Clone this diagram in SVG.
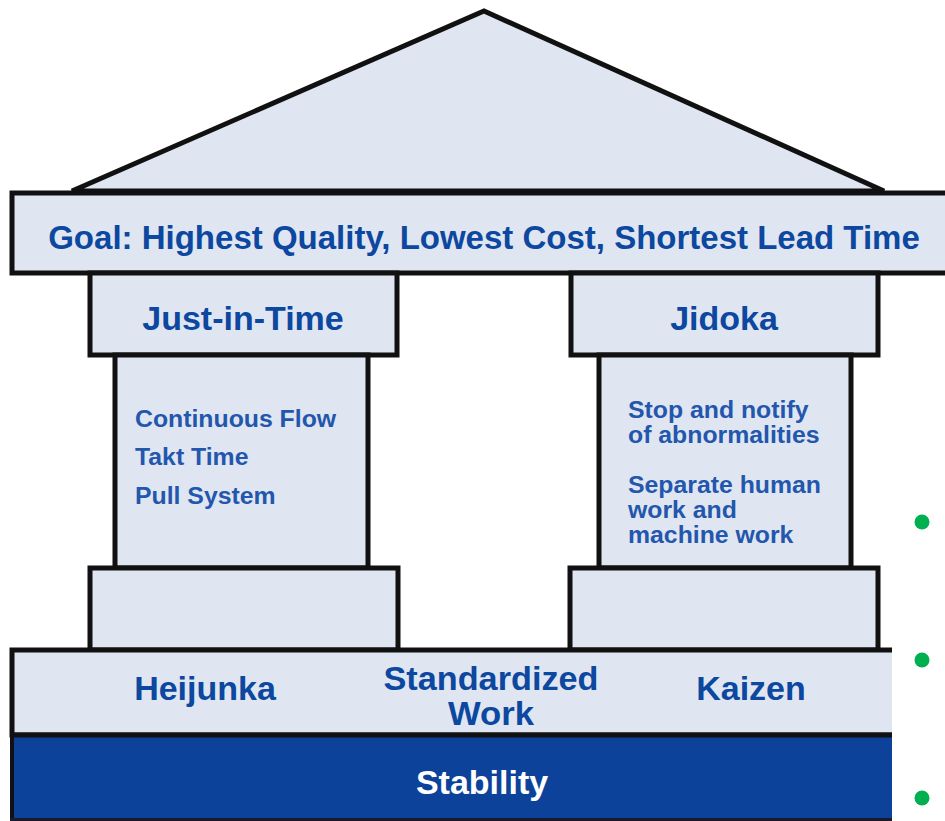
<svg xmlns="http://www.w3.org/2000/svg" width="945" height="821" viewBox="0 0 945 821">
<style>
.box{fill:#dfe6f1;stroke:#111;stroke-width:5}
.t{font-family:"Liberation Sans",Arial,sans-serif;font-weight:bold;fill:#0c47a0}
.h{font-size:34px;text-anchor:middle}
.s{font-size:24.8px;fill:#2356ad}
.dot{fill:#00b050}
</style>
<rect width="945" height="821" fill="#ffffff"/>
<g id="roof">
<polygon class="box" points="72,191 484,11 884,191" stroke-width="5.5"/>
</g>
<g id="goal">
<rect class="box" x="12" y="193" width="945" height="80"/>
<text class="t" x="484" y="249" font-size="33" text-anchor="middle">Goal: Highest Quality, Lowest Cost, Shortest Lead Time</text>
</g>
<g id="jit">
<rect class="box" x="90" y="273" width="307" height="82"/>
<text class="t h" x="243" y="330">Just-in-Time</text>
</g>
<g id="jit-shaft">
<rect class="box" x="115" y="355" width="253" height="213"/>
<text class="t s" x="135" y="427">Continuous Flow</text>
<text class="t s" x="135" y="465">Takt Time</text>
<text class="t s" x="135" y="504">Pull System</text>
</g>
<g id="jit-base">
<rect class="box" x="90" y="568" width="308" height="82"/>
</g>
<g id="jidoka">
<rect class="box" x="571" y="273" width="307" height="82"/>
<text class="t h" x="724" y="330">Jidoka</text>
</g>
<g id="jidoka-shaft">
<rect class="box" x="599" y="355" width="252" height="213"/>
<text class="t s" x="628" y="418" font-size="25.5">Stop and notify</text>
<text class="t s" x="628" y="443" font-size="25.5">of abnormalities</text>
<text class="t s" x="628" y="493" font-size="25.5">Separate human</text>
<text class="t s" x="628" y="518" font-size="25.5">work and</text>
<text class="t s" x="628" y="543" font-size="25.5">machine work</text>
</g>
<g id="jidoka-base">
<rect class="box" x="570" y="568" width="308" height="82"/>
</g>
<g id="foundation">
<rect class="box" x="12" y="650" width="945" height="85"/>
<text class="t h" x="205" y="700">Heijunka</text>
<text class="t h" x="491" y="690" font-size="31" textLength="215" lengthAdjust="spacingAndGlyphs">Standardized</text>
<text class="t h" x="491" y="725" font-size="31" textLength="86" lengthAdjust="spacingAndGlyphs">Work</text>
<text class="t h" x="751" y="700">Kaizen</text>
</g>
<g id="stability">
<rect x="10" y="735" width="947" height="86" fill="#0d429a"/>
<line x1="10" y1="735" x2="945" y2="735" stroke="#111" stroke-width="5"/>
<line x1="12" y1="735" x2="12" y2="821" stroke="#111" stroke-width="4"/>
<line x1="10" y1="819.5" x2="945" y2="819.5" stroke="#1a1a2a" stroke-width="3"/>
<text class="t h" x="482" y="794" font-size="35" style="fill:#ffffff">Stability</text>
</g>
<g id="connectors"></g>
<g id="bullets">
<rect x="892" y="455" width="53" height="366" fill="#ffffff"/>
<circle class="dot" cx="922" cy="522" r="7.5"/>
<circle class="dot" cx="922" cy="660" r="7.5"/>
<circle class="dot" cx="922" cy="798" r="7.5"/>
</g>
</svg>
